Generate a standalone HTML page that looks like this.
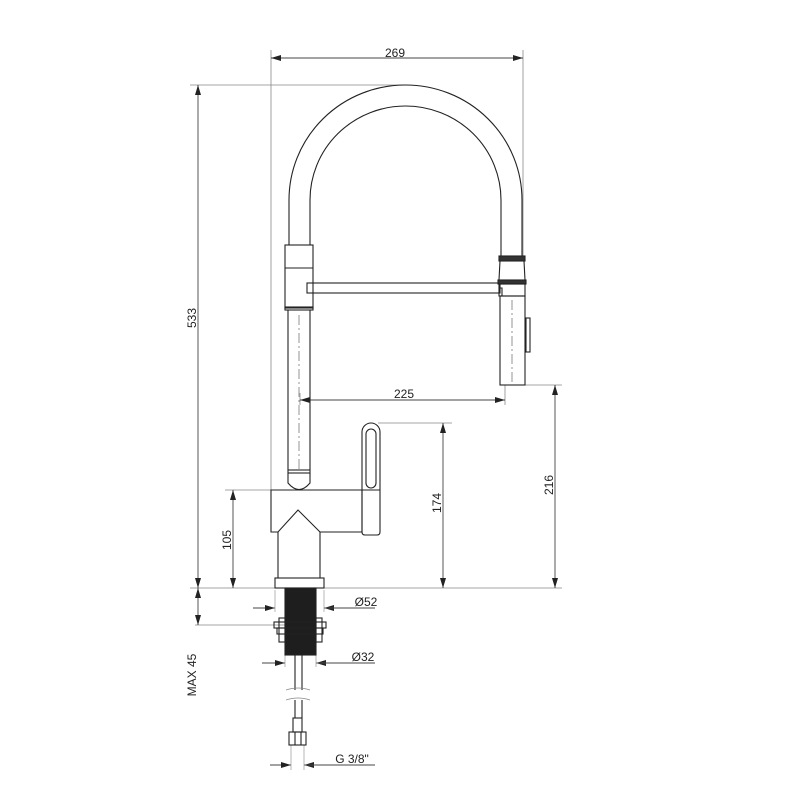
<!DOCTYPE html>
<html><head><meta charset="utf-8"><style>
html,body{margin:0;padding:0;background:#fff;}
svg{display:block}
text{font-family:"Liberation Sans",sans-serif;font-size:12px;fill:#222;}
</style></head><body>
<svg width="800" height="800" viewBox="0 0 800 800" xmlns="http://www.w3.org/2000/svg">
<defs>
<marker id="a" viewBox="0 0 10 6" refX="10" refY="3" markerWidth="10" markerHeight="6" orient="auto-start-reverse" markerUnits="userSpaceOnUse"><path d="M0,0 L10,3 L0,6 z" fill="#222"/></marker>
</defs>
<g stroke="#888" stroke-width="0.8" fill="none">
<line x1="271" y1="50" x2="271" y2="490"/>
<line x1="523" y1="50" x2="523" y2="256"/>
<line x1="190" y1="85" x2="405" y2="85"/>
<line x1="190" y1="588" x2="562" y2="588"/>
<line x1="225" y1="490" x2="271" y2="490"/>
<line x1="378" y1="423" x2="452" y2="423"/>
<line x1="525" y1="385" x2="562" y2="385"/>
<line x1="195" y1="625" x2="285" y2="625"/>
<line x1="300" y1="393" x2="300" y2="405"/>
<line x1="505" y1="385" x2="505" y2="405"/>
</g>
<g stroke="#444" stroke-width="0.9" fill="none">
<line x1="271" y1="58" x2="523" y2="58" marker-start="url(#a)" marker-end="url(#a)"/>
<line x1="198" y1="85" x2="198" y2="588" marker-start="url(#a)" marker-end="url(#a)"/>
<line x1="300" y1="400" x2="505" y2="400" marker-start="url(#a)" marker-end="url(#a)"/>
<line x1="443" y1="423" x2="443" y2="588" marker-start="url(#a)" marker-end="url(#a)"/>
<line x1="555" y1="385" x2="555" y2="588" marker-start="url(#a)" marker-end="url(#a)"/>
<line x1="233" y1="490" x2="233" y2="588" marker-start="url(#a)" marker-end="url(#a)"/>
<line x1="198" y1="588" x2="198" y2="625" marker-start="url(#a)" marker-end="url(#a)"/>
<line x1="253" y1="608" x2="275" y2="608" marker-end="url(#a)"/>
<line x1="346" y1="608" x2="324" y2="608" marker-end="url(#a)"/>
<line x1="324" y1="608" x2="375" y2="608"/>
<line x1="262" y1="663" x2="285" y2="663" marker-end="url(#a)"/>
<line x1="340" y1="663" x2="316" y2="663" marker-end="url(#a)"/>
<line x1="316" y1="663" x2="375" y2="663"/>
<line x1="270" y1="765" x2="291" y2="765" marker-end="url(#a)"/>
<line x1="325" y1="765" x2="304" y2="765" marker-end="url(#a)"/>
<line x1="304" y1="765" x2="375" y2="765"/>
</g>
<g stroke="#999" stroke-width="0.7" fill="none">
<line x1="275" y1="590" x2="275" y2="612"/><line x1="324" y1="590" x2="324" y2="612"/>
<line x1="285" y1="655" x2="285" y2="667"/><line x1="316" y1="655" x2="316" y2="667"/>
<line x1="291" y1="745" x2="291" y2="770"/><line x1="304" y1="745" x2="304" y2="770"/>
</g>
<g stroke="#222" stroke-width="1.1" fill="none">
<path d="M289,245 V200 A116.5,115 0 0 1 522,200 V256"/>
<path d="M310,245 V200 A95.5,94 0 0 1 501,200 V256"/>
<rect x="285" y="245" width="28" height="63"/>
<line x1="285" y1="268" x2="313" y2="268"/>
<rect x="285" y="307" width="28" height="3"/>
<path d="M288,310 V470 M310,310 V470"/>
<rect x="288" y="470" width="22" height="3"/>
<path d="M288,473 V483 Q299,496 310,483 V473"/>
<rect x="307" y="283" width="193" height="10"/>
<rect x="499" y="256" width="26" height="5" fill="#333"/>
<path d="M500,261 L524,261 L525,280 L499,280 z"/>
<rect x="498" y="280" width="28" height="4" fill="#333"/>
<rect x="499" y="284" width="26" height="12"/>
<path d="M499,288 L502,288 L502,296"/>
<rect x="500" y="296" width="25" height="89"/>
<rect x="526" y="318" width="4" height="34"/>
<path d="M271,490 H362 V532 H320 L298,510 L278,532 H271 z"/>
<path d="M278,532 V578 M320,532 V578"/>
<rect x="275" y="578" width="49" height="10"/>
<path d="M362,432 A9,9 0 0 1 380,432 V532 Q380,535 377,535 H365 Q362,535 362,532 z"/>
<path d="M366,434 A5,5 0 0 1 376,434 V483 A5,5 0 0 1 366,483 z"/>
<line x1="362" y1="490" x2="380" y2="490"/>
<rect x="285" y="588" width="31" height="67" fill="#1e1e1e"/>
<rect x="274" y="622" width="52" height="6"/>
<rect x="277" y="628" width="46" height="6"/>
<rect x="279" y="618" width="6" height="24"/><rect x="316" y="618" width="6" height="24"/>
<path d="M295,655 V690 M302,655 V690 M295,700 V718 M302,700 V718"/>
<rect x="293" y="718" width="9" height="14"/>
<rect x="289" y="732" width="17" height="13"/>
<line x1="295" y1="732" x2="295" y2="745"/><line x1="301" y1="732" x2="301" y2="745"/>
</g>
<g stroke="#888" stroke-width="0.7" fill="none">
<path d="M286,690 Q298,686 310,690 M286,700 Q298,696 310,700"/>
</g>
<g stroke="#666" stroke-width="0.7" fill="none" stroke-dasharray="10,3,2,3">
<line x1="299" y1="315" x2="299" y2="470"/>
<line x1="512" y1="300" x2="512" y2="385"/>
</g>
<text x="395" y="57" text-anchor="middle">269</text>
<text x="404" y="398" text-anchor="middle">225</text>
<text x="366" y="606" text-anchor="middle">Ø52</text>
<text x="363" y="661" text-anchor="middle">Ø32</text>
<text x="352" y="763" text-anchor="middle">G 3/8"</text>
<text transform="translate(196,318) rotate(-90)" text-anchor="middle">533</text>
<text transform="translate(441,503) rotate(-90)" text-anchor="middle">174</text>
<text transform="translate(553,485) rotate(-90)" text-anchor="middle">216</text>
<text transform="translate(231,540) rotate(-90)" text-anchor="middle">105</text>
<text transform="translate(196,675) rotate(-90)" text-anchor="middle">MAX 45</text>
</svg>
</body></html>
